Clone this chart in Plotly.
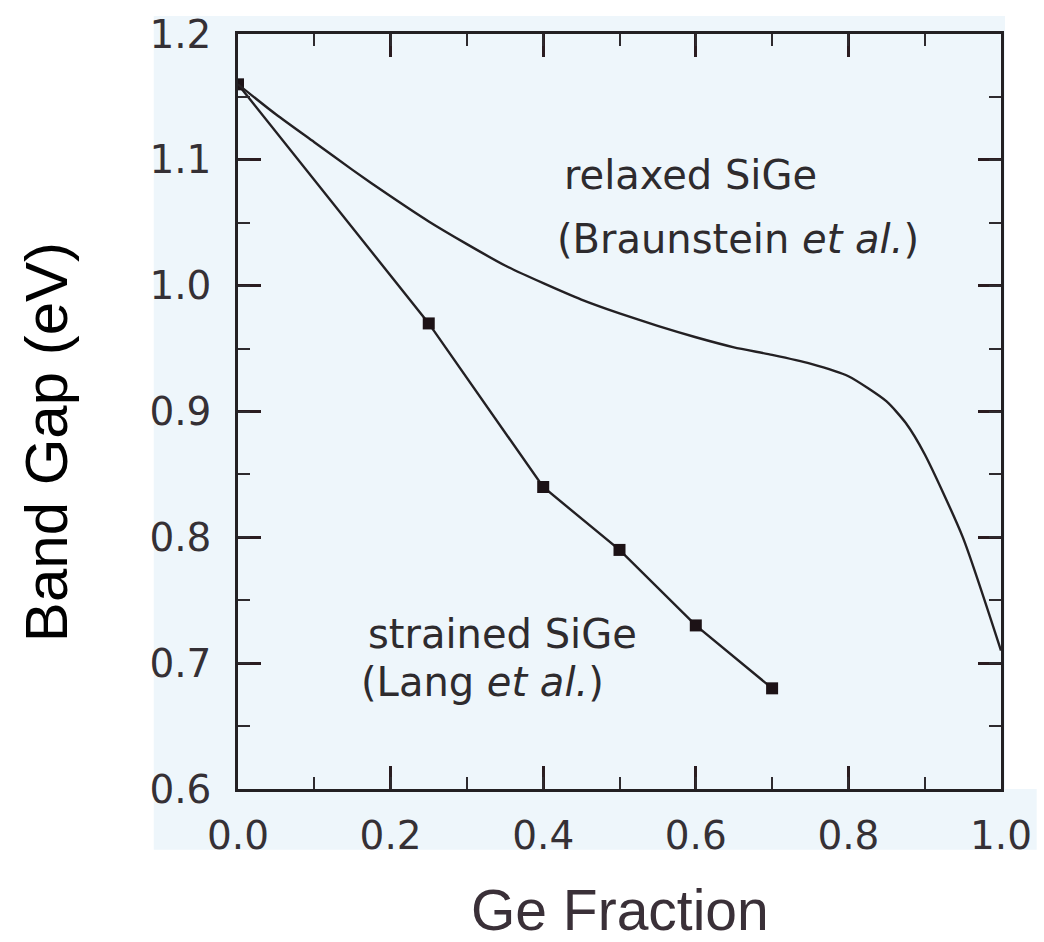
import plotly.graph_objects as go

# Strained SiGe band gap (Lang et al.)
strained_x = [0.0, 0.25, 0.4, 0.5, 0.6, 0.7]
strained_gap = [1.16, 0.97, 0.84, 0.79, 0.73, 0.68]

# Relaxed SiGe band gap (Braunstein et al.)
relaxed_x = [0.0, 0.05, 0.1, 0.15, 0.2, 0.25, 0.3, 0.35, 0.4, 0.45, 0.5,
             0.55, 0.6, 0.65, 0.7, 0.75, 0.8, 0.85, 0.875, 0.9, 0.95, 1.0]
relaxed_gap = [1.160, 1.136, 1.114, 1.092, 1.071, 1.051, 1.033, 1.016, 1.002,
               0.989, 0.978, 0.968, 0.959, 0.951, 0.945, 0.938, 0.928, 0.908,
               0.891, 0.866, 0.800, 0.710]

W, H = 1044, 942
L, R, T, B = 238, 36, 31, 153
PW, PH = W - L - R, H - T - B

BG = "#eef6fb"
INK = "#232023"
MAJOR_TICK = "#2a1c20"
FINE_TICK = "#2e2a2e"
TXT = "#2e2b2e"


def px_x(p):
    return (p - L) / PW


def px_y(p):
    return (H - B - p) / PH


fig = go.Figure()

# The relaxed curve lives on the overlay axes that carry the fine ticks
fig.add_trace(go.Scatter(
    x=relaxed_x, y=relaxed_gap, mode="lines", xaxis="x2", yaxis="y2",
    line=dict(color=INK, width=2.4, shape="spline", smoothing=0.6),
    showlegend=False, hoverinfo="skip",
))
fig.add_trace(go.Scatter(
    x=strained_x, y=strained_gap, mode="lines+markers",
    line=dict(color=INK, width=2.4),
    marker=dict(symbol="square", size=12, color="#1c1216"),
    showlegend=False,
))

tick_font = dict(family="DejaVu Sans", size=39, color="#353035")

major = dict(
    showline=True, linecolor=INK, linewidth=2.5, mirror="allticks",
    ticks="inside", ticklen=23, tickwidth=2.5, tickcolor=MAJOR_TICK,
    showgrid=True, gridcolor="rgba(0,0,0,0)", tickfont=tick_font, tickformat=".1f",
)
fine = dict(
    showline=False, mirror="allticks", ticks="inside", ticklen=12, tickwidth=2,
    tickcolor=FINE_TICK, showgrid=False, zeroline=False, showticklabels=False,
)

fig.update_layout(
    xaxis=dict(range=[0, 1.0], tickmode="linear", tick0=0, dtick=0.2,
               ticklabelstandoff=10, **major),
    yaxis=dict(range=[0.6, 1.2], tickmode="linear", tick0=0.6, dtick=0.1,
               ticklabelstandoff=16, **major),
    xaxis2=dict(range=[0, 1.0], tickmode="linear", tick0=0, dtick=0.1,
                overlaying="x", anchor="y2", side="bottom", **fine),
    yaxis2=dict(range=[0.6, 1.2], tickmode="linear", tick0=0.6, dtick=0.05,
                overlaying="y", anchor="x2", side="left", **fine),
)

# Light panel behind the axes and tick labels
fig.add_shape(type="rect", xref="paper", yref="paper", layer="below",
              x0=px_x(153), x1=px_x(1012), y0=px_y(850), y1=px_y(13),
              fillcolor=BG, line=dict(width=0))
fig.add_shape(type="rect", xref="paper", yref="paper", layer="below",
              x0=px_x(1012), x1=px_x(1044), y0=px_y(850), y1=px_y(789),
              fillcolor=BG, line=dict(width=0))

label_font = dict(family="DejaVu Sans", size=40, color=TXT)
curve_labels = [
    (0.425, 1.088, "relaxed SiGe"),
    (0.415, 1.037, "(Braunstein <i>et al.</i>)"),
    (0.168, 0.7235, "strained SiGe"),
    (0.158, 0.6847, "(Lang <i>et al.</i>)"),
]
for lx, ly, txt in curve_labels:
    fig.add_annotation(x=lx, y=ly, xref="x", yref="y", text=txt, showarrow=False,
                       xanchor="left", yanchor="middle", font=label_font)

fig.add_annotation(x=0.5, y=px_y(910), xref="paper", yref="paper",
                   text="Ge Fraction", showarrow=False, xanchor="center", yanchor="middle",
                   font=dict(family="Liberation Sans", size=57, color="#3a3038"))
fig.add_annotation(x=px_x(45), y=px_y(441), xref="paper", yref="paper",
                   text="Band Gap (eV)", showarrow=False, textangle=-90,
                   xanchor="center", yanchor="middle",
                   font=dict(family="Liberation Sans", size=60, color="#000000"))

fig.update_layout(
    width=W, height=H,
    margin=dict(l=L, r=R, t=T, b=B),
    paper_bgcolor="white", plot_bgcolor=BG,
    showlegend=False,
)

fig.write_html("out.html")
